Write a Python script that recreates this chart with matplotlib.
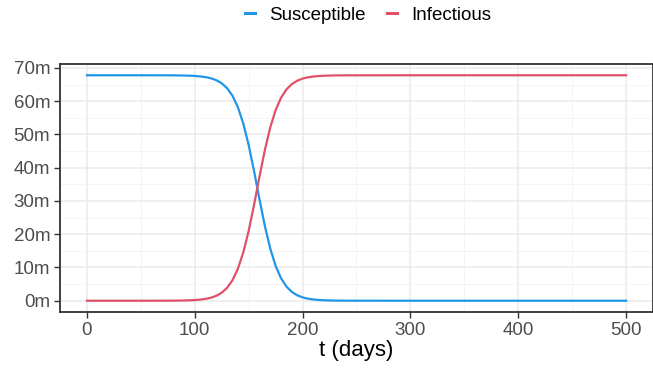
import numpy as np
import matplotlib
matplotlib.use("Agg")
import matplotlib.pyplot as plt
from matplotlib.ticker import MultipleLocator, FuncFormatter

plt.rcParams['font.family'] = ['Liberation Sans', 'DejaVu Sans']

# values (millions)
t_days = [0, 10, 20, 30, 40, 50, 60, 70, 80, 90, 95,
          100, 105, 110, 115, 120, 125, 130, 135, 140, 145,
          150, 155, 160, 165, 170, 175, 180, 185, 190, 195,
          200, 205, 210, 215, 220, 230, 240, 250, 300, 350, 400, 450, 500]
infectious = [0.0, 0.0, 0.0, 0.0, 0.0, 0.001, 0.004, 0.010, 0.028, 0.075, 0.124,
              0.205, 0.337, 0.554, 0.908, 1.48, 2.41, 3.89, 6.18, 9.62, 14.52,
              21.02, 28.85, 37.28, 45.30, 52.11, 57.33, 61.04, 63.53, 65.14, 66.16,
              66.80, 67.19, 67.43, 67.57, 67.66, 67.75, 67.78, 67.79, 67.8, 67.8, 67.8, 67.8, 67.8]
susceptible = [67.8, 67.8, 67.8, 67.8, 67.8, 67.799, 67.796, 67.790, 67.772, 67.725, 67.676,
               67.595, 67.463, 67.247, 66.892, 66.32, 65.39, 63.91, 61.62, 58.18, 53.28,
               46.78, 38.95, 30.52, 22.50, 15.69, 10.47, 6.76, 4.27, 2.66, 1.64,
               1.00, 0.61, 0.37, 0.23, 0.14, 0.05, 0.02, 0.01, 0.0, 0.0, 0.0, 0.0, 0.0]

blue = '#2196e8'
red = '#e05169'

fig = plt.figure(figsize=(6.53, 3.71), dpi=100)
ax = fig.add_axes([60 / 653, 59 / 371, 593 / 653, 248 / 371])

ax.plot(t_days, susceptible, color=blue, lw=1.6, label='Susceptible')
ax.plot(t_days, infectious, color=red, lw=1.6, label='Infectious')

ax.set_xlim(-25, 525)
ax.set_ylim(-3.39, 71.19)
ax.xaxis.set_major_locator(MultipleLocator(100))
ax.xaxis.set_minor_locator(MultipleLocator(50))
ax.yaxis.set_major_locator(MultipleLocator(10))
ax.yaxis.set_minor_locator(MultipleLocator(5))
ax.yaxis.set_major_formatter(FuncFormatter(lambda v, p: f'{v:.0f}m'))

ax.grid(which='major', color='#ebebeb', lw=1.1)
ax.grid(which='minor', color='#f2f2f2', lw=0.6)
ax.set_axisbelow(True)
for s in ax.spines.values():
    s.set_color('#333333')
    s.set_linewidth(1.3)

ax.tick_params(which='major', length=4, width=1, color='#333333',
               labelsize=13.5, labelcolor='#4d4d4d', pad=3)
ax.tick_params(which='minor', length=0)
ax.set_xlabel('t (days)', fontsize=16, color='black', labelpad=1)

leg = fig.legend(loc='center', bbox_to_anchor=(368 / 653, 1 - 15 / 371), ncol=2,
                 frameon=False, fontsize=13.5, handlelength=0.55, handletextpad=0.75,
                 columnspacing=1.1)
for h in leg.get_lines():
    h.set_linewidth(2.2)

fig.savefig('out.png', dpi=100)
